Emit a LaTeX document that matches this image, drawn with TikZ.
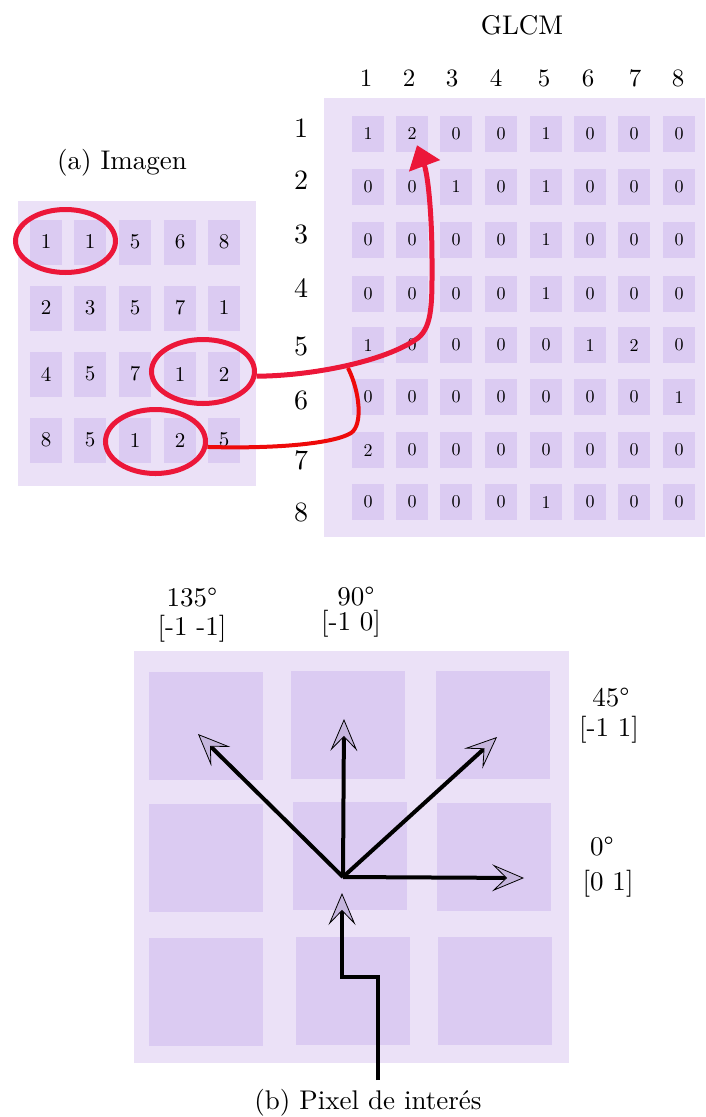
\documentclass[tikz,border=0pt]{standalone}
\usepackage{fontspec}
\setmainfont{lmroman10-regular}[Extension=.otf,BoldFont=lmroman10-bold,ItalicFont=lmroman10-italic,BoldItalicFont=lmroman10-bolditalic]
\usetikzlibrary{arrows.meta,shapes.geometric}
\definecolor{outerc}{HTML}{EBE1F7}
\definecolor{cellc}{HTML}{DBCBF2}
\definecolor{tipc}{HTML}{C6B6DE}
\definecolor{redA}{HTML}{EC1739}
\definecolor{redB}{HTML}{EE0A0A}
\begin{document}
\begin{tikzpicture}[x=1pt,y=-1pt,
 bgbox/.style={fill=outerc,draw=none},
 icell/.style={fill=cellc,inner sep=0pt,minimum width=32pt,minimum height=45pt,font=\fontsize{21}{21}\selectfont},
 gcell/.style={fill=cellc,inner sep=0pt,minimum width=32pt,minimum height=36pt,font=\fontsize{18}{18}\selectfont},
 pcell/.style={fill=cellc,inner sep=0pt,minimum width=114pt,minimum height=108pt},
 lbl/.style={font=\fontsize{27}{30}\selectfont,inner sep=0pt},
 hdr/.style={font=\fontsize{25}{25}\selectfont,inner sep=0pt},
 rowlbl/.style={font=\fontsize{28}{28}\selectfont,inner sep=0pt},
 ring/.style={draw=redA,line width=5pt,ellipse,inner sep=0pt},
 redarrow/.style={draw=redA,line width=5pt},
 redjoin/.style={draw=redB,line width=4pt},
 dirarrow/.style={line width=4pt,-{Stealth[length=32pt,width=27pt,inset=14pt,fill=tipc,line width=0.8pt]}},
]
\useasboundingbox (0,0) rectangle (705,1117);

% ---------- (a) Imagen ----------
\node[lbl] (tA) at (122,163) {(a) Imagen};
\fill[bgbox] (18,201) rectangle (256,486);
\foreach \r/\y/\vals in {1/242/{1,1,5,6,8},2/308/{2,3,5,7,1},3/374/{4,5,7,1,2},4/440/{8,5,1,2,5}}{
  \foreach \v [count=\c] in \vals {
    \pgfmathsetmacro{\xx}{{46,90,135,180,224}[\c-1]}
    \node[icell] (i\r\c) at (\xx,\y) {\v};
  }
}

% ---------- GLCM ----------
\node[lbl] (tG) at (522,25) {GLCM};
\fill[bgbox] (324,98) rectangle (705,537);
\foreach \t [count=\c] in {366,409,452,496,544,588,635,678}{
  \node[hdr] (ch\c) at (\t,78) {\c};
}
\foreach \t [count=\r] in {128,180,234,288,346,400,460,512}{
  \node[rowlbl] (rh\r) at (301,\t) {\r};
}
\foreach \r/\y/\vals in {1/134/{1,2,0,0,1,0,0,0},2/187/{0,0,1,0,1,0,0,0},3/240/{0,0,0,0,1,0,0,0},4/294/{0,0,0,0,1,0,0,0},5/345/{1,0,0,0,0,1,2,0},6/397/{0,0,0,0,0,0,0,1},7/450/{2,0,0,0,0,0,0,0},8/502/{0,0,0,0,1,0,0,0}}{
  \foreach \v [count=\c] in \vals {
    \pgfmathsetmacro{\xx}{{368,412,456,501,546,590,634,679}[\c-1]}
    \node[gcell] (g\r\c) at (\xx,\y) {\v};
  }
}

% ---------- rings and red connectors ----------
\node[ring,minimum width=100pt,minimum height=63pt] (e1) at (65.5,241) {};
\node[ring,minimum width=103pt,minimum height=64pt] (e2) at (203,371.5) {};
\node[ring,minimum width=100pt,minimum height=64pt] (e3) at (155.5,441.5) {};
\coordinate (rtip) at ([xshift=5pt,yshift=7pt]g12.south);
\coordinate (rjoin) at (348,368);
\draw[redjoin] (e3.-6) .. controls (280,449) and (335,443) .. (351,433)
   .. controls (363,425) and (360,392) .. (rjoin);
\draw[redarrow,-{Triangle[length=22pt,width=32pt]}] (e2.-5)
   .. controls (310,376) and (385,362) .. (418,338)
   .. controls (433,326) and (432,300) .. (432,260)
   .. controls (432,215) and (428,175) .. (rtip);

% ---------- (b) Pixel de interes ----------
\fill[bgbox] (134,651) rectangle (569,1063);
\node[pcell] (p11) at (206,726) {};
\node[pcell] (p12) at (348,725) {};
\node[pcell] (p13) at (493,725) {};
\node[pcell] (p21) at (206,858) {};
\node[pcell] (p22) at (350,856) {};
\node[pcell] (p23) at (494,857) {};
\node[pcell] (p31) at (206,992) {};
\node[pcell] (p32) at (353,991) {};
\node[pcell] (p33) at (495,991) {};

\node[lbl] (l135a) at (192,598) {135°};
\node[lbl] (l135b) at (192,629) {[-1 -1]};
\node[lbl] (l90a) at (356,597) {90°};
\node[lbl] (l90b) at (351,624) {[-1 0]};
\node[lbl] (l45a) at (611,698) {45°};
\node[lbl] (l45b) at (609,730) {[-1 1]};
\node[lbl] (l0a) at (602,847) {0°};
\node[lbl] (l0b) at (608,884) {[0 1]};
\node[lbl] (tB) at (368,1103) {(b) Pixel de interés};

\coordinate (o) at (343,877);
\coordinate (t0) at (524,878);
\coordinate (t90) at (344,719);
\coordinate (t45) at (497,737);
\coordinate (t135) at (198,734);
\coordinate (ps) at (378,1080);
\coordinate (pt) at (342,893);
\draw[dirarrow] (o) -- (t0);
\draw[dirarrow] (o) -- (t90);
\draw[dirarrow] (o) -- (t45);
\draw[dirarrow] (o) -- (t135);
\draw[dirarrow] (ps) -- (378,977) -- (342,977) -- (pt);
\end{tikzpicture}
\end{document}
